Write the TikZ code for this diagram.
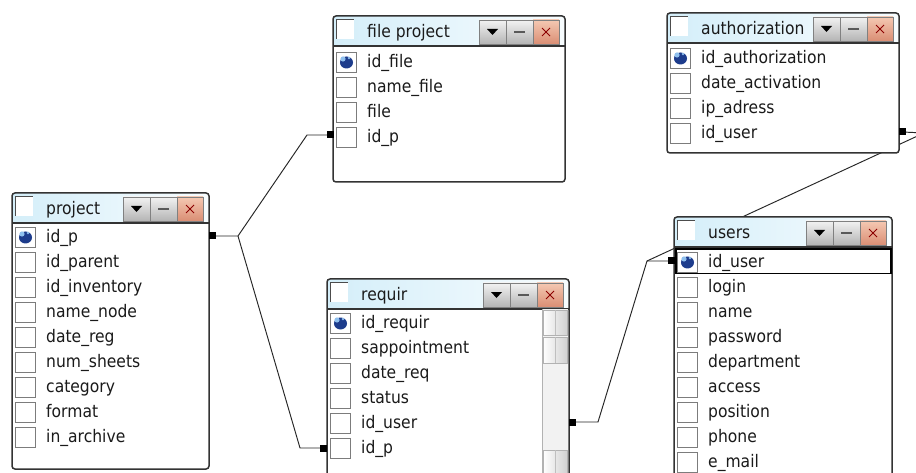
\documentclass[tikz,border=0pt]{standalone}
\usepackage{fontspec}
\setmainfont{DejaVu Sans}[FakeStretch=0.9]
\definecolor{tbL}{HTML}{D4EEF9}
\definecolor{tbM}{HTML}{E6F6FC}
\definecolor{tbR}{HTML}{F7FCFE}
\definecolor{frame}{HTML}{333333}
\definecolor{cbx}{HTML}{7C7C7C}
\definecolor{btnT}{HTML}{F2F2F2}
\definecolor{btnB}{HTML}{B4B4B4}
\definecolor{clsT}{HTML}{F4C8B2}
\definecolor{clsB}{HTML}{DA8E74}
\definecolor{keyB}{HTML}{1D3C8C}
\definecolor{keyL}{HTML}{8FC0EE}
\definecolor{txt}{HTML}{1A1A1A}
\tikzset{
  rowtext/.style={anchor=base west, inner sep=0pt, text=txt, font=\fontsize{17.3}{20}\selectfont},
  conn/.style={draw=black!85, line width=0.95pt},
  endsq/.style={fill=black, minimum size=7pt, inner sep=0pt, outer sep=0pt},
  winframe/.style={draw=frame, line width=1.5pt, rounded corners=3pt},
  cbox/.style={draw=cbx, fill=white, line width=0.9pt},
  btn/.style={top color=btnT, bottom color=btnB, draw=black!50, line width=0.6pt},
  clsbtn/.style={top color=clsT, bottom color=clsB, draw=black!50, line width=0.6pt}
}
% #1 name, #2 left, #3 top, #4 right, #5 bottom, #6 title
\newcommand{\dbwin}[6]{%
  \fill[white, rounded corners=3pt] (#2,#3) rectangle (#4,#5);
  \shade[left color=tbL, middle color=tbM, right color=tbR] ({#2+1},{#3+1}) rectangle ({#4-1},{#3+30});
  \draw[winframe] (#2,#3) rectangle (#4,#5);
  \draw[frame, line width=1.2pt] (#2,{#3+30}) -- (#4,{#3+30});
  \fill[white] ({#2+3},{#3+4}) rectangle ({#2+21},{#3+23});
  \draw[black!70, line width=1pt] ({#2+3},{#3+23}) -- ({#2+3},{#3+4}) -- ({#2+21},{#3+4});
  \node[rowtext] (#1-title) at ({#2+34},{#3+22}) {#6};
  \shade[btn] ({#4-86},{#3+4}) rectangle ({#4-59},{#3+28});
  \fill[black] ({#4-78},{#3+13}) -- ({#4-67},{#3+13}) -- ({#4-72.5},{#3+19}) -- cycle;
  \shade[btn] ({#4-59},{#3+4}) rectangle ({#4-32},{#3+28});
  \draw[black!65, line width=1.3pt] ({#4-51},{#3+16}) -- ({#4-40},{#3+16});
  \shade[clsbtn] ({#4-32},{#3+4}) rectangle ({#4-6},{#3+28});
  \draw[red!55!black, line width=0.9pt] ({#4-23},{#3+12}) -- ({#4-15},{#3+20}) ({#4-23},{#3+20}) -- ({#4-15},{#3+12});
}
% #1 name, #2 left, #3 first row centre, #4 list
\newcommand{\dbrows}[4]{%
  \foreach \t [count=\i] in {#4} {
    \pgfmathsetmacro\ry{#3+(\i-1)*25}
    \draw[cbox] ({#2+3},{\ry-10}) rectangle ({#2+23},{\ry+10});
    \node[rowtext] (#1-\i) at ({#2+34},{\ry+5.5}) {\t};
  }
  \fill[keyB] ({#2+13.5},{#3+0.5}) ellipse (6.5pt and 6pt);
  \fill[keyL] ({#2+10},{#3-3}) circle (2.6pt);
  \fill[keyL] ({#2+16},{#3-4}) circle (1.4pt);
}
\begin{document}
\begin{tikzpicture}[x=1pt,y=-1pt]
\useasboundingbox (0,0) rectangle (916,473);
\clip (0,0) rectangle (916,473);
\fill[white] (0,0) rectangle (916,473);

% connector end squares
\node[endsq] (sqp)  at (212.5,236) {};
\node[endsq] (sqf)  at (330,135) {};
\node[endsq] (sqrp) at (323.5,448) {};
\node[endsq] (sqru) at (572.5,422) {};
\node[endsq] (squi) at (671,261) {};
\node[endsq] (sqai) at (902.5,132) {};
\coordinate (j1) at (238,236);
\coordinate (j2) at (307,135);
\coordinate (j3) at (300,448);
\coordinate (j4) at (598,422);
\coordinate (j5) at (647,261);
\coordinate (j6) at (924,133);

\draw[conn] (sqp.center) -- (j1) -- (j2) -- (sqf.center);
\draw[conn] (j1) -- (j3) -- (sqrp.center);
\draw[conn] (sqru.center) -- (j4) -- (j5) -- (squi.center);
\draw[conn] (sqai.center) -- (j6) -- (j5);

% project
\dbwin{project}{12}{193}{209}{469}{project}
\dbrows{project}{12}{237}{id\_p,id\_parent,id\_inventory,name\_node,date\_reg,num\_sheets,category,format,in\_archive}

% file_project
\dbwin{fileproject}{333}{16}{565}{182}{file project}
\dbrows{fileproject}{333}{62}{id\_file,name\_file,file,id\_p}

% requir
\dbwin{requir}{327}{279}{569}{500}{requir}
\fill[black!5] (542,309) rectangle (568,500);
\draw[black!30] (542,309) -- (542,500);
\shade[left color=white, right color=black!18, draw=black!30] (543,310) rectangle (567,335);
\draw[black!25] (555,310) -- (555,335);
\shade[left color=white, right color=black!18, draw=black!30] (543,337) rectangle (567,363);
\draw[black!25] (555,337) -- (555,363);
\shade[left color=white, right color=black!18, draw=black!30] (543,450) rectangle (567,480);
\draw[black!25] (555,450) -- (555,480);
\dbrows{requir}{327}{323}{id\_requir,sappointment,date\_req,status,id\_user,id\_p}

% users
\dbwin{users}{674}{217}{892}{500}{users}
\dbrows{users}{674}{262}{id\_user,login,name,password,department,access,position,phone,e\_mail}
\draw[black, line width=1.3pt] (676,249) rectangle (891,273.5);

% authorization
\dbwin{authorization}{667}{13}{899}{153}{authorization}
\dbrows{authorization}{667}{58}{id\_authorization,date\_activation,ip\_adress,id\_user}

% squares on top
\foreach \s in {sqp,sqf,sqrp,sqru,squi,sqai} \fill[black] (\s.south west) rectangle (\s.north east);
\end{tikzpicture}
\end{document}
